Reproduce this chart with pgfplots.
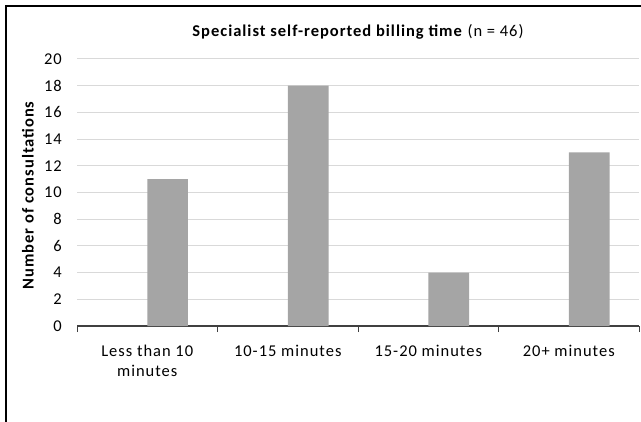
\documentclass[border=0pt]{standalone}
\usepackage{pgfplots}
\pgfplotsset{compat=1.18}
\usepackage{fontspec}
\setmainfont{Carlito}[LetterSpace=6]
\definecolor{bargray}{HTML}{A5A5A5}
\definecolor{gridgray}{HTML}{D9D9D9}
\definecolor{axisgray}{HTML}{404040}
\begin{document}
\fontsize{16.5bp}{20bp}\selectfont
\begin{tikzpicture}[x=1bp,y=1bp]
\useasboundingbox (0,0) rectangle (641,421);
\begin{axis}[
  at={(77bp,95bp)}, anchor=south west,
  scale only axis, width=562bp, height=267bp,
  xmin=-0.5, xmax=3.5, ymin=0, ymax=20,
  ytick={0,2,...,20},
  xtick={0,1,2,3},
  xticklabels={Less than 10\\minutes,10-15 minutes,15-20 minutes,20+ minutes},
  xticklabel style={align=center, inner sep=0pt, yshift=-19bp, font=\fontsize{16.5bp}{20bp}\selectfont},
  yticklabel style={anchor=east, inner sep=0pt, xshift=-15bp, font=\fontsize{16.5bp}{20bp}\selectfont},
  /pgf/number format/assume math mode=true,
  major tick length=0pt,
  xtick style={draw=none}, ytick style={draw=none},
  extra x ticks={-0.5,0.5,1.5,2.5,3.5},
  extra x tick labels={},
  extra x tick style={grid=none, major tick length=6bp, tick align=outside, xtick style={draw=axisgray, line width=1bp}},
  axis x line*=bottom, axis y line*=left,
  x axis line style={draw=axisgray, line width=1.2bp},
  y axis line style={draw=none},
  ymajorgrids, grid style={draw=gridgray, line width=1bp},
  ybar, bar width=0.29, bar shift=0.145,
  clip=false,
]
\addplot[fill=bargray, draw=none] coordinates {(0,11) (1,18) (2,4) (3,13)};
\end{axis}
\node[inner sep=0pt, font=\fontsize{16.5bp}{20bp}\selectfont] at (358,389) {\textbf{Specialist self-reported billing time} (n = 46)};
\node[inner sep=0pt, rotate=90, font=\fontsize{16.5bp}{20bp}\selectfont\bfseries] at (28,225.5) {Number of consultations};
\draw[line width=2.2bp, black] (6,-20) -- (6,415) -- (700,415);
\end{tikzpicture}
\end{document}
